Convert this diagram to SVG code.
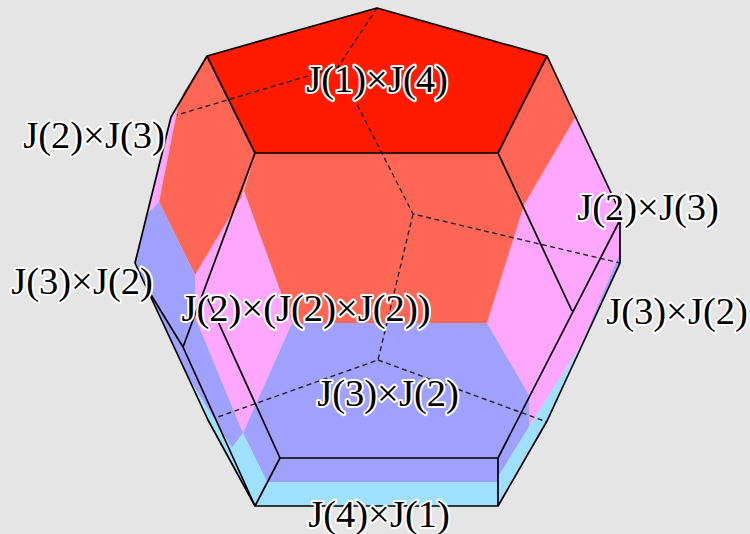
<svg xmlns="http://www.w3.org/2000/svg" width="750" height="534" viewBox="0 0 750 534">
<style>
.e{fill:none;stroke:#000;stroke-width:1.7;stroke-linejoin:round}
.d{fill:none;stroke:#222;stroke-width:1.4;stroke-dasharray:5 3.5}
.t{font-family:"Liberation Serif","Times New Roman",serif;font-size:38.6px;fill:#000;stroke:#fff;stroke-width:4;paint-order:stroke;stroke-linejoin:round;text-anchor:middle}
</style>
<rect width="750" height="534" fill="#e5e5e5"/>
<g id="faces">
<polygon fill="#ffa6ff" points="207,56 171,117 148,213 159,202 178,107 184,92"/>
<polygon fill="#ffa6ff" points="244,191 292,323 243,433 195,317 195,275 241,198"/>
<polygon fill="#ffa6ff" points="575,118 620,212 620,253 581,345 529,427 529,395 487,323 524,205"/>
<polygon fill="#ff6655" points="207,56 255,153 241,198 195,275 159,202 178,107 184,92"/>
<polygon fill="#ff6655" points="255,153 498,153 524,205 487,323 292,323 244,191"/>
<polygon fill="#ff6655" points="547,56 498,153 524,205 575,118"/>
<polygon fill="#a0a0ff" points="148,213 159,202 195,275 195,317 243,433 232,448 185,372 135,263"/>
<polygon fill="#a0a0ff" points="292,323 487,323 529,395 529,427 498,477 498,482 267,482 243,433"/>
<polygon fill="#a0a0ff" points="620,253 620,263 581,345"/>
<polygon fill="#a0e0ff" points="185,372 232,448 243,433 267,482 498,482 498,477 529,427 581,345 547,421 498,506 255,506 208,420"/>
<polygon fill="#ff1a00" points="377,8 547,56 498,153 255,153 207,56"/>
</g>
<g id="connectors">
<path class="d" d="M377,8L338,67L177,115M338,67L413,214L620,263M413,214L378,360L215,418M378,360L547,422"/>
<path class="e" d="M377,8L547,56L620,212V263L547,421L498,506H255L208,420L135,263L171,117L207,56Z"/>
<path class="e" d="M207,56L255,153H498L547,56M498,153L572,311M620,220L498,458V506M498,458H280L255,506M280,458L206,295M255,153L183,347L255,506M148,290L183,347"/>
</g>
<g id="labels">
<text class="t" x="377" y="92">J(1)×J(4)</text>
<text class="t" x="94" y="148">J(2)×J(3)</text>
<text class="t" x="648" y="220">J(2)×J(3)</text>
<text class="t" x="82" y="294">J(3)×J(2)</text>
<text class="t" x="677" y="324">J(3)×J(2)</text>
<text class="t" x="306" y="321">J(2)×(J(2)×J(2))</text>
<text class="t" x="388" y="406">J(3)×J(2)</text>
<text class="t" x="379" y="527">J(4)×J(1)</text>
</g>
</svg>
